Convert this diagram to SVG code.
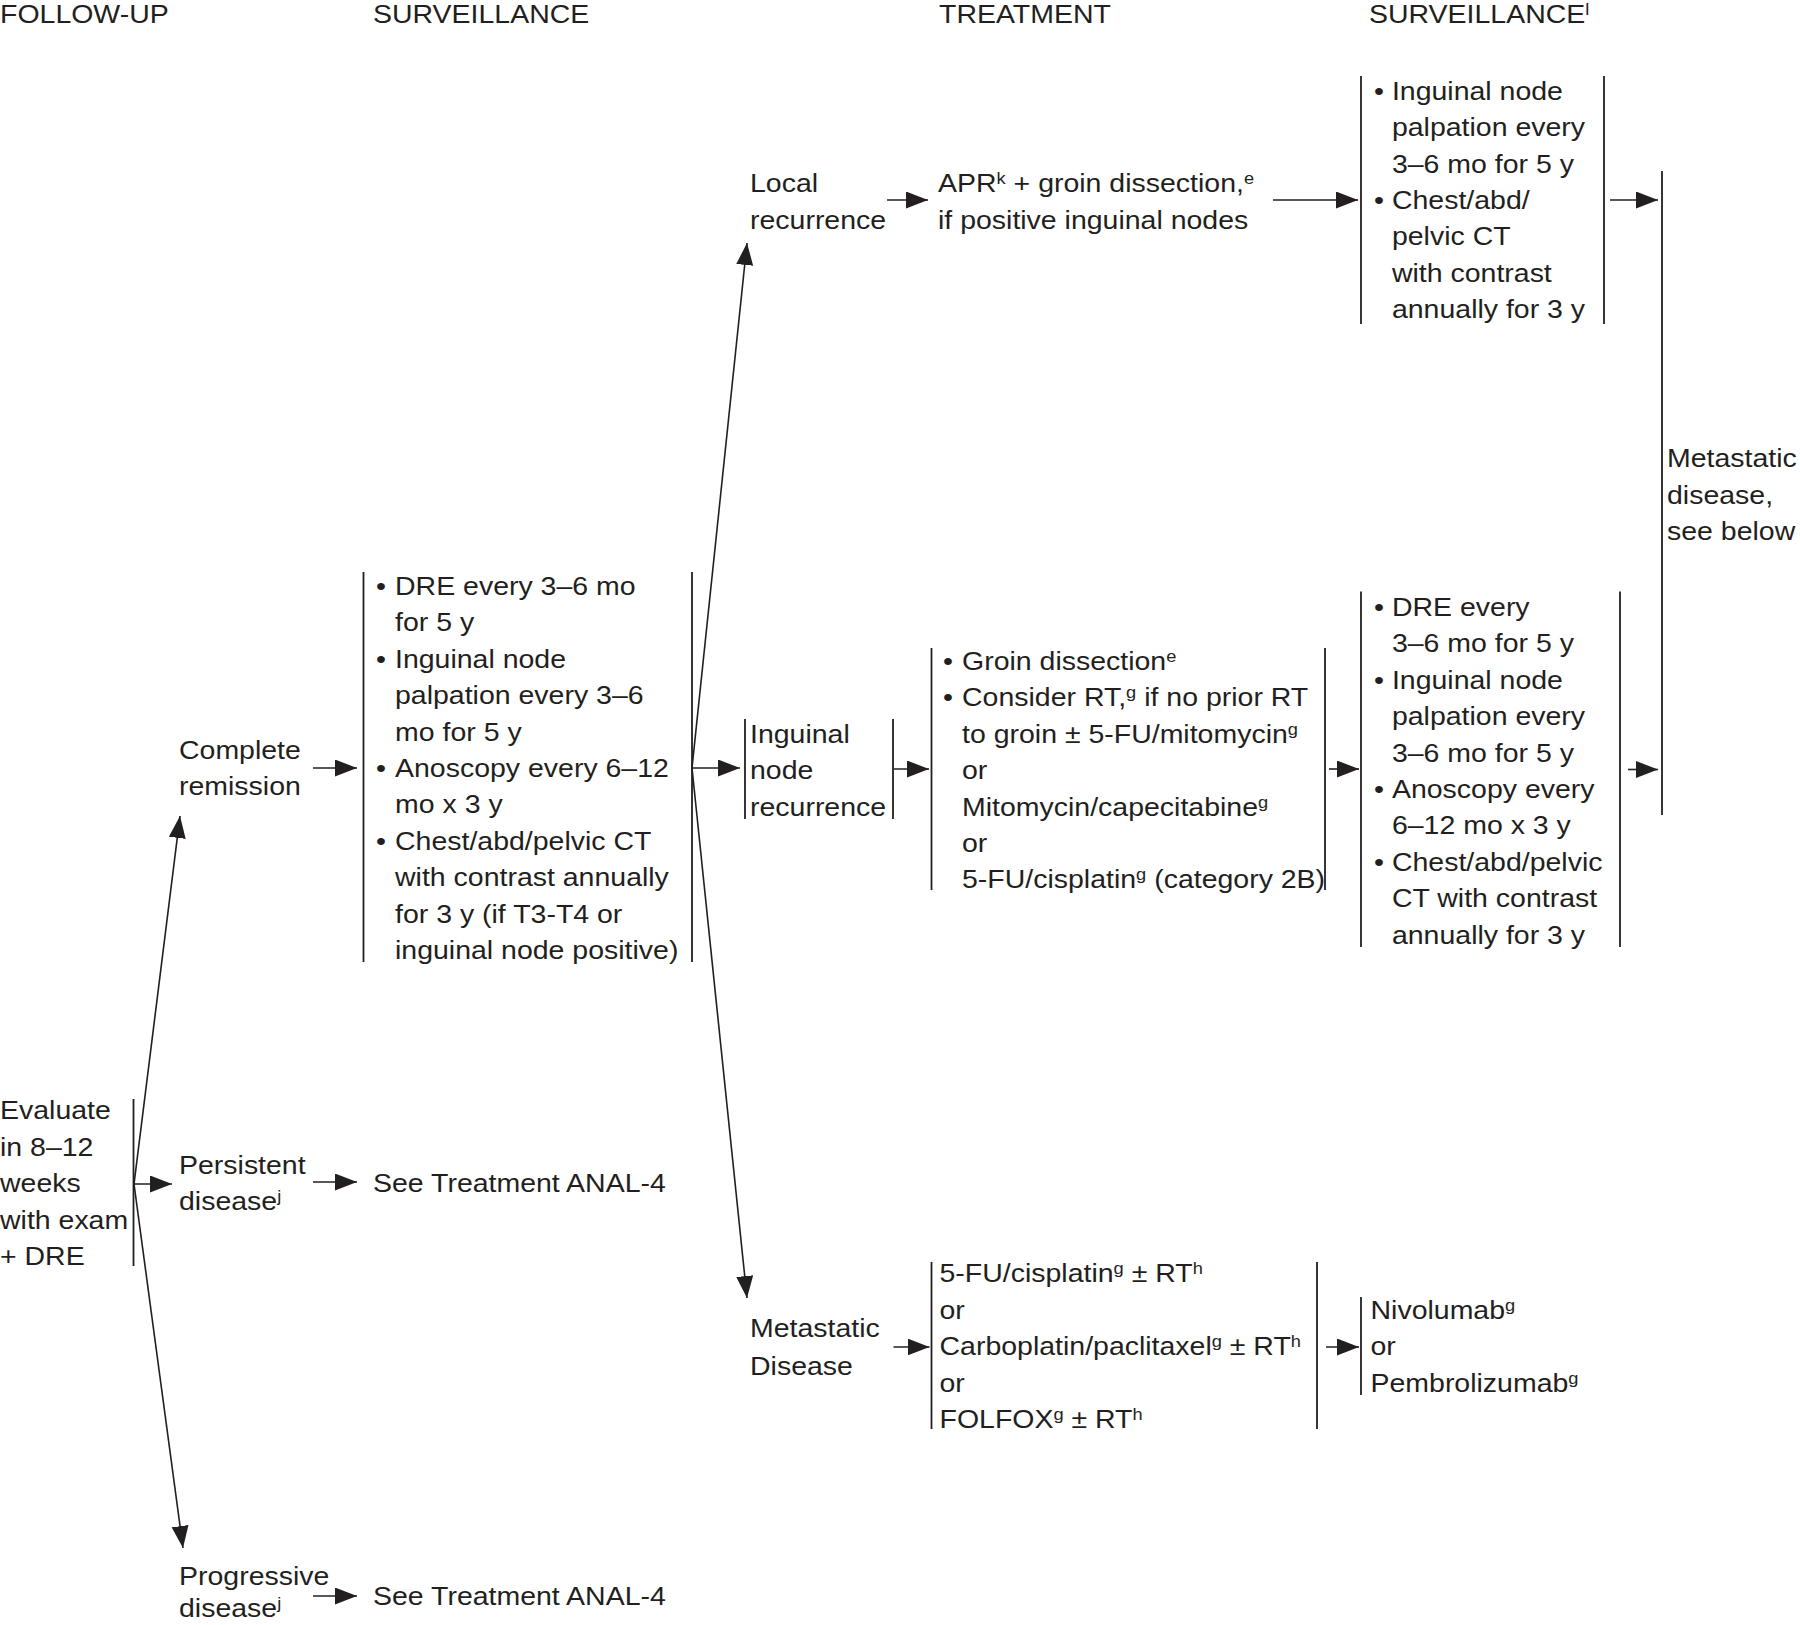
<svg xmlns="http://www.w3.org/2000/svg" width="1800" height="1625" viewBox="0 0 1800 1625">
<style>
.t{font-family:"Liberation Sans",Arial,sans-serif;font-size:26.5px;fill:#231f20}
.s{font-size:17px}
.br{stroke:#231f20;stroke-width:1.8;fill:none}
.c{stroke:#231f20;stroke-width:1.6;fill:none;marker-end:url(#ah)}
</style>
<defs>
<marker id="ah" markerUnits="userSpaceOnUse" markerWidth="24" markerHeight="18" refX="22" refY="8.5" orient="auto">
<path d="M0,0 L22,8.5 L0,17 z" fill="#231f20"/>
</marker>
</defs>
<rect width="1800" height="1625" fill="#fff"/>

<g id="headers">
<text class="t" transform="translate(0 0) scale(1.075 1)" x="0" y="23">FOLLOW-UP</text>
<text class="t" transform="translate(373 0) scale(1.075 1)" x="0" y="23">SURVEILLANCE</text>
<text class="t" transform="translate(939 0) scale(1.075 1)" x="0" y="23">TREATMENT</text>
<text class="t" transform="translate(1369 0) scale(1.075 1)" x="0" y="23">SURVEILLANCE<tspan class="s" dy="-8">l</tspan></text>
</g>

<g id="evaluate">
<text class="t" transform="translate(0 0) scale(1.075 1)">
<tspan x="0" y="1119">Evaluate</tspan>
<tspan x="0" y="1156">in 8–12</tspan>
<tspan x="0" y="1192.5">weeks</tspan>
<tspan x="0" y="1229">with exam</tspan>
<tspan x="0" y="1265">+ DRE</tspan>
</text>
<line class="br" x1="133.5" y1="1099" x2="133.5" y2="1266"/>
</g>

<g id="complete-remission">
<text class="t" transform="translate(179 0) scale(1.075 1)">
<tspan x="0" y="759">Complete</tspan>
<tspan x="0" y="795.5">remission</tspan>
</text>
</g>

<g id="persistent-disease">
<text class="t" transform="translate(179 0) scale(1.075 1)">
<tspan x="0" y="1174">Persistent</tspan>
<tspan x="0" y="1210.5">disease<tspan class="s" dy="-8">j</tspan></tspan>
</text>
</g>

<g id="progressive-disease">
<text class="t" transform="translate(179 0) scale(1.075 1)">
<tspan x="0" y="1585">Progressive</tspan>
<tspan x="0" y="1617">disease<tspan class="s" dy="-8">j</tspan></tspan>
</text>
</g>

<g id="see-treatment-1">
<text class="t" transform="translate(373 0) scale(1.075 1)" x="0" y="1192">See Treatment ANAL-4</text>
</g>

<g id="see-treatment-2">
<text class="t" transform="translate(373 0) scale(1.075 1)" x="0" y="1605">See Treatment ANAL-4</text>
</g>

<g id="surveillance-main">
<line class="br" x1="363.5" y1="572" x2="363.5" y2="962"/>
<line class="br" x1="692" y1="572" x2="692" y2="962"/>
<text class="t" transform="translate(376 0) scale(1.075 1)">
<tspan x="0" y="595">•</tspan><tspan x="17.7" y="595">DRE every 3–6 mo</tspan>
<tspan x="17.7" y="631.4">for 5 y</tspan>
<tspan x="0" y="667.8">•</tspan><tspan x="17.7" y="667.8">Inguinal node</tspan>
<tspan x="17.7" y="704.2">palpation every 3–6</tspan>
<tspan x="17.7" y="740.6">mo for 5 y</tspan>
<tspan x="0" y="777">•</tspan><tspan x="17.7" y="777">Anoscopy every 6–12</tspan>
<tspan x="17.7" y="813.4">mo x 3 y</tspan>
<tspan x="0" y="849.8">•</tspan><tspan x="17.7" y="849.8">Chest/abd/pelvic CT</tspan>
<tspan x="17.7" y="886.2">with contrast annually</tspan>
<tspan x="17.7" y="922.6">for 3 y (if T3-T4 or</tspan>
<tspan x="17.7" y="959">inguinal node positive)</tspan>
</text>
</g>

<g id="local-recurrence">
<text class="t" transform="translate(750 0) scale(1.075 1)">
<tspan x="0" y="192.5">Local</tspan>
<tspan x="0" y="229">recurrence</tspan>
</text>
</g>

<g id="apr">
<text class="t" transform="translate(938 0) scale(1.075 1)">
<tspan x="0" y="192.5">APR<tspan class="s" dy="-8">k</tspan><tspan dy="8"> + groin dissection,</tspan><tspan class="s" dy="-8">e</tspan></tspan>
<tspan x="0" y="229">if positive inguinal nodes</tspan>
</text>
</g>

<g id="surveillance-local">
<line class="br" x1="1361" y1="76" x2="1361" y2="324"/>
<line class="br" x1="1604" y1="76" x2="1604" y2="324"/>
<text class="t" transform="translate(1374 0) scale(1.075 1)">
<tspan x="0" y="100">•</tspan><tspan x="16.7" y="100">Inguinal node</tspan>
<tspan x="16.7" y="136.4">palpation every</tspan>
<tspan x="16.7" y="172.8">3–6 mo for 5 y</tspan>
<tspan x="0" y="209">•</tspan><tspan x="16.7" y="209">Chest/abd/</tspan>
<tspan x="16.7" y="245.4">pelvic CT</tspan>
<tspan x="16.7" y="281.8">with contrast</tspan>
<tspan x="16.7" y="318.2">annually for 3 y</tspan>
</text>
</g>

<g id="metastatic-see-below">
<line class="br" x1="1662" y1="171" x2="1662" y2="815"/>
<text class="t" transform="translate(1667 0) scale(1.075 1)">
<tspan x="0" y="467">Metastatic</tspan>
<tspan x="0" y="504">disease,</tspan>
<tspan x="0" y="540.5">see below</tspan>
</text>
</g>

<g id="inguinal-node-recurrence">
<line class="br" x1="745" y1="719" x2="745" y2="819"/>
<line class="br" x1="893" y1="719" x2="893" y2="819"/>
<text class="t" transform="translate(750 0) scale(1.075 1)">
<tspan x="0" y="743">Inguinal</tspan>
<tspan x="0" y="779.5">node</tspan>
<tspan x="0" y="816">recurrence</tspan>
</text>
</g>

<g id="treatment-inguinal">
<line class="br" x1="931.5" y1="648" x2="931.5" y2="890"/>
<line class="br" x1="1325" y1="648" x2="1325" y2="890"/>
<text class="t" transform="translate(943 0) scale(1.075 1)">
<tspan x="0" y="670">•</tspan><tspan x="17.7" y="670">Groin dissection<tspan class="s" dy="-8">e</tspan></tspan>
<tspan x="0" y="706.4">•</tspan><tspan x="17.7" y="706.4">Consider RT,<tspan class="s" dy="-8">g</tspan><tspan dy="8"> if no prior RT</tspan></tspan>
<tspan x="17.7" y="742.8">to groin ± 5-FU/mitomycin<tspan class="s" dy="-8">g</tspan></tspan>
<tspan x="17.7" y="779.2">or</tspan>
<tspan x="17.7" y="815.6">Mitomycin/capecitabine<tspan class="s" dy="-8">g</tspan></tspan>
<tspan x="17.7" y="852">or</tspan>
<tspan x="17.7" y="888.4">5-FU/cisplatin<tspan class="s" dy="-8">g</tspan><tspan dy="8"> (category 2B)</tspan></tspan>
</text>
</g>

<g id="surveillance-inguinal">
<line class="br" x1="1361" y1="591.5" x2="1361" y2="947"/>
<line class="br" x1="1620" y1="591.5" x2="1620" y2="947"/>
<text class="t" transform="translate(1374 0) scale(1.075 1)">
<tspan x="0" y="616">•</tspan><tspan x="16.7" y="616">DRE every</tspan>
<tspan x="16.7" y="652.4">3–6 mo for 5 y</tspan>
<tspan x="0" y="688.8">•</tspan><tspan x="16.7" y="688.8">Inguinal node</tspan>
<tspan x="16.7" y="725.2">palpation every</tspan>
<tspan x="16.7" y="761.6">3–6 mo for 5 y</tspan>
<tspan x="0" y="798">•</tspan><tspan x="16.7" y="798">Anoscopy every</tspan>
<tspan x="16.7" y="834.4">6–12 mo x 3 y</tspan>
<tspan x="0" y="870.8">•</tspan><tspan x="16.7" y="870.8">Chest/abd/pelvic</tspan>
<tspan x="16.7" y="907.2">CT with contrast</tspan>
<tspan x="16.7" y="943.6">annually for 3 y</tspan>
</text>
</g>

<g id="metastatic-disease">
<text class="t" transform="translate(750 0) scale(1.075 1)">
<tspan x="0" y="1337">Metastatic</tspan>
<tspan x="0" y="1375">Disease</tspan>
</text>
</g>

<g id="treatment-metastatic">
<line class="br" x1="931.5" y1="1262" x2="931.5" y2="1429"/>
<line class="br" x1="1317" y1="1262" x2="1317" y2="1429"/>
<text class="t" transform="translate(939.5 0) scale(1.075 1)">
<tspan x="0" y="1282">5-FU/cisplatin<tspan class="s" dy="-8">g</tspan><tspan dy="8"> ± RT</tspan><tspan class="s" dy="-8">h</tspan></tspan>
<tspan x="0" y="1319">or</tspan>
<tspan x="0" y="1355.5">Carboplatin/paclitaxel<tspan class="s" dy="-8">g</tspan><tspan dy="8"> ± RT</tspan><tspan class="s" dy="-8">h</tspan></tspan>
<tspan x="0" y="1392">or</tspan>
<tspan x="0" y="1428">FOLFOX<tspan class="s" dy="-8">g</tspan><tspan dy="8"> ± RT</tspan><tspan class="s" dy="-8">h</tspan></tspan>
</text>
</g>

<g id="immunotherapy">
<line class="br" x1="1361" y1="1297" x2="1361" y2="1395"/>
<text class="t" transform="translate(1370.5 0) scale(1.075 1)">
<tspan x="0" y="1319">Nivolumab<tspan class="s" dy="-8">g</tspan></tspan>
<tspan x="0" y="1355.5">or</tspan>
<tspan x="0" y="1392">Pembrolizumab<tspan class="s" dy="-8">g</tspan></tspan>
</text>
</g>

<g id="connectors">
<line class="c" x1="134" y1="1184" x2="180" y2="816"/>
<line class="c" x1="134" y1="1184" x2="172" y2="1184"/>
<line class="c" x1="134" y1="1184" x2="183" y2="1548"/>
<line class="c" x1="313" y1="768" x2="357" y2="768"/>
<line class="c" x1="313" y1="1182" x2="357" y2="1182"/>
<line class="c" x1="313" y1="1596" x2="357" y2="1596"/>
<line class="c" x1="692" y1="768" x2="747" y2="243"/>
<line class="c" x1="692" y1="768" x2="740" y2="768"/>
<line class="c" x1="692" y1="768" x2="747" y2="1298"/>
<line class="c" x1="887" y1="200" x2="928" y2="200"/>
<line class="c" x1="1273" y1="200" x2="1358" y2="200"/>
<line class="c" x1="1610" y1="200" x2="1658" y2="200"/>
<line class="c" x1="894" y1="769" x2="929" y2="769"/>
<line class="c" x1="1329" y1="769" x2="1359" y2="769"/>
<line class="c" x1="1628" y1="769.5" x2="1658" y2="769.5"/>
<line class="c" x1="893.5" y1="1347" x2="929.5" y2="1347"/>
<line class="c" x1="1326" y1="1347" x2="1359" y2="1347"/>
</g>
</svg>
